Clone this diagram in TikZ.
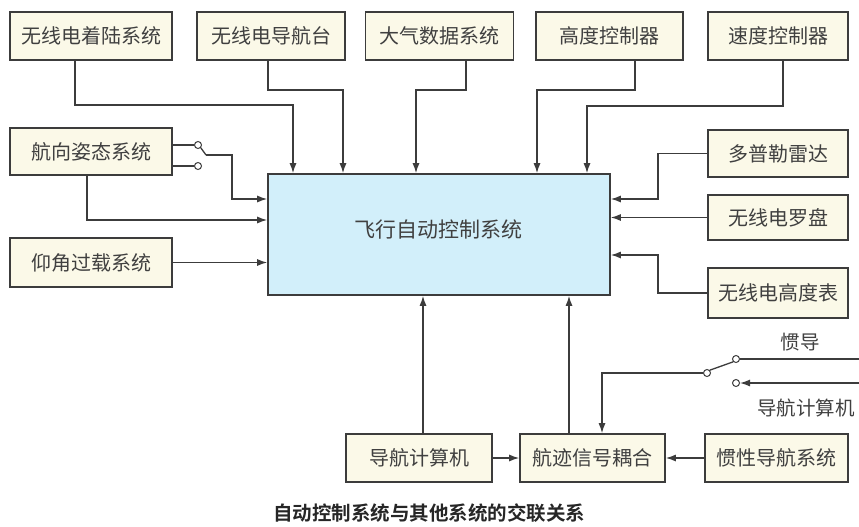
\documentclass[tikz,border=0pt]{standalone}
\usepackage{fontspec}
\setmainfont{Noto Sans CJK SC}
\newfontfamily\cjkbold[BoldFont={* Bold}]{Noto Sans CJK SC}
\usetikzlibrary{arrows.meta}
\definecolor{boxfill}{HTML}{FBF9E8}
\definecolor{mainfill}{HTML}{D2EFFA}
\definecolor{edge}{HTML}{3C3C3C}
\definecolor{txt}{HTML}{404040}
\tikzset{
  sysbox/.style={draw=edge, line width=1.6pt, fill=boxfill, minimum height=48pt, inner sep=0pt, text=txt, font=\fontsize{20}{22}\selectfont},
  mainbox/.style={draw=edge, line width=1.6pt, fill=mainfill, inner sep=0pt},
  conn/.style={draw=edge, line width=1.3pt},
  arr/.style={conn, -{Latex[length=10pt,width=7pt]}},
  contact/.style={circle, draw=edge, line width=1pt, fill=white, inner sep=0pt, minimum size=7pt},
  lbl/.style={text=txt, font=\fontsize{19.5}{21}\selectfont, inner sep=0pt}
}
\begin{document}
\begin{tikzpicture}[x=1pt,y=-1pt]
\useasboundingbox (0,0) rectangle (859,527);
% top row
\node[sysbox, minimum width=162pt] (land) at (91,36) {无线电着陆系统};
\node[sysbox, minimum width=148pt] (nav) at (271,36) {无线电导航台};
\node[sysbox, minimum width=148pt] (air) at (439.5,36) {大气数据系统};
\node[sysbox, minimum width=147pt] (alt) at (609.5,36) {高度控制器};
\node[sysbox, minimum width=140pt] (spd) at (778,36) {速度控制器};
% left column
\node[sysbox, minimum width=162pt, minimum height=47pt] (head) at (91,151.5) {航向姿态系统};
\node[sysbox, minimum width=162pt, minimum height=49pt] (pitch) at (91,262.5) {仰角过载系统};
% right column
\node[sysbox, minimum width=140pt, minimum height=47pt] (dop) at (778,153.5) {多普勒雷达};
\node[sysbox, minimum width=140pt, minimum height=45pt] (comp) at (778,217.5) {无线电罗盘};
\node[sysbox, minimum width=140pt, minimum height=50pt] (ralt) at (778,293) {无线电高度表};
% main
\node[mainbox, minimum width=342pt, minimum height=121pt] (main) at (439,234.5) {};
\node[text=txt, font=\fontsize{21}{23}\selectfont, inner sep=0pt] (maintext) at (438,230) {飞行自动控制系统};
% bottom row
\node[sysbox, minimum width=146pt] (ncomp) at (419,458) {导航计算机};
\node[sysbox, minimum width=145pt] (track) at (592.5,458) {航迹信号耦合};
\node[sysbox, minimum width=143pt] (ins) at (776.5,458) {惯性导航系统};
% caption
\node[text=black!85, font=\cjkbold\bfseries\fontsize{19.5}{21}\selectfont, inner sep=0pt] (cap) at (429,513) {自动控制系统与其他系统的交联关系};

% top connectors
\draw[arr] (land.south -| 75,0) |- (293,105) -- (293,0 |- main.north);
\draw[arr] (nav.south -| 268,0) |- (343,90) -- (343,0 |- main.north);
\draw[arr] (air.south -| 466,0) |- (416,90) -- (416,0 |- main.north);
\draw[arr] (alt.south -| 635,0) |- (537,90) -- (537,0 |- main.north);
\draw[arr] (spd.south -| 783,0) |- (587,106) -- (587,0 |- main.north);

% right connectors
\draw[arr] (dop.west) -| (658,199) -- (main.east |- 0,199);
\draw[arr] (comp.west) -- (main.east |- comp.west);
\draw[arr] (ralt.west) -| (658,255) -- (main.east |- 0,255);

% left connectors
\node[contact] (h1) at (198,145) {};
\node[contact] (h2) at (198,166) {};
\draw[conn] (head.east |- h1) -- (h1.west);
\draw[conn] (head.east |- h2) -- (h2.west);
\coordinate (hlev) at (206,155);
\draw[conn] (h1.south east) -- (hlev);
\draw[arr] (hlev) -| (232,199) -- (main.west |- 0,199);
\draw[arr] (head.south -| 87,0) |- (main.west |- 0,220);
\draw[arr] (pitch.east) -- (main.west |- pitch.east);

% bottom connectors
\draw[arr] (ncomp.north -| 423,0) -- (main.south -| 423,0);
\draw[arr] (track.north -| 569,0) -- (main.south -| 569,0);
\draw[arr] (ncomp.east) -- (track.west);
\draw[arr] (ins.west) -- (track.east);

% switch on the right
\node[contact] (s1) at (736,359) {};
\node[contact] (s0) at (707,373) {};
\node[contact] (s2) at (736,383) {};
\coordinate (inEnd) at (859,359);
\coordinate (ncEnd) at (859,383);
\draw[conn] (inEnd) -- (s1.east);
\draw[conn] (s0.north east) -- (s1.south west);
\draw[arr] (s0.west) -| (602,0 |- track.north);
\draw[arr] (ncEnd) -- (s2.east);
\node[lbl] (lblins) at (800,342) {惯导};
\node[lbl] (lblnc) at (806,408) {导航计算机};
\end{tikzpicture}
\end{document}
